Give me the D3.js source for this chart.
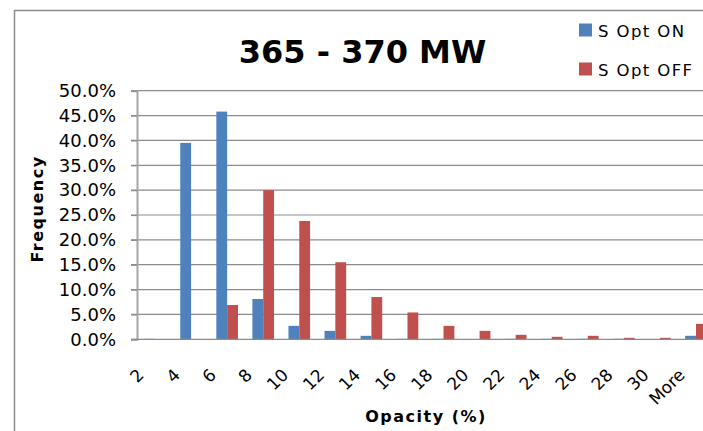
<!DOCTYPE html>
<html>
<head>
<meta charset="utf-8">
<script src="https://cdn.jsdelivr.net/npm/d3@7"></script>
<style>
  html, body { margin: 0; padding: 0; background: #fff; overflow: hidden; }
  svg { display: block; }
  text { font-family: "DejaVu Sans", "Open Sans", sans-serif; fill: #000; }
</style>
</head>
<body>
<svg id="chart" width="703" height="431"></svg>
<script>
// Opacity histogram bins (percent) and relative frequencies
const categories = ["2", "4", "6", "8", "10", "12", "14", "16", "18", "20", "22", "24", "26", "28", "30", "More"];
const seriesNames = ["S Opt ON", "S Opt OFF"];
const sOptOn  = [0.1, 39.5, 45.8, 8.1, 2.7, 1.7, 0.7, 0.1, 0.1, 0.0, 0.1, 0.1, 0.1, 0.1, 0.0, 0.7];
const sOptOff = [0.0, 0.0, 6.9, 30.0, 23.8, 15.5, 8.5, 5.4, 2.7, 1.7, 0.9, 0.5, 0.7, 0.3, 0.3, 3.1];
const yTicks = [0, 5, 10, 15, 20, 25, 30, 35, 40, 45, 50];
const colors = ["#4F81BD", "#C0504D"];

const svg = d3.select("#chart");
const plot = { left: 137, right: 714, top: 90.7, bottom: 339.3 };

// outer chart frame
svg.append("rect")
  .attr("x", 14.5).attr("y", 10.5)
  .attr("width", 720).attr("height", 440)
  .attr("fill", "none").attr("stroke", "#8c8c8c").attr("stroke-width", 1.5);

const x = d3.scaleBand().domain(categories)
  .range([plot.left, plot.right]).paddingInner(0.4).paddingOuter(0.2);
const xSub = d3.scaleBand().domain(seriesNames).range([0, x.bandwidth()]);
const y = d3.scaleLinear().domain([0, 50]).range([plot.bottom, plot.top]);

// horizontal gridlines
svg.append("g").selectAll("line").data(yTicks.slice(1)).join("line")
  .attr("x1", plot.left - 6).attr("x2", plot.right)
  .attr("y1", d => y(d)).attr("y2", d => y(d))
  .attr("stroke", "#8c8c8c").attr("stroke-width", 1.2);

// bars
const rows = categories.map((c, i) => ({ cat: c, vals: [sOptOn[i], sOptOff[i]] }));
svg.append("g").selectAll("g").data(rows).join("g")
  .attr("transform", d => `translate(${x(d.cat)},0)`)
  .selectAll("rect").data(d => d.vals.map((v, k) => ({ v, k }))).join("rect")
  .attr("x", d => xSub(seriesNames[d.k]))
  .attr("width", xSub.bandwidth())
  .attr("y", d => y(d.v))
  .attr("height", d => y(0) - y(d.v))
  .attr("fill", d => colors[d.k]);

// y axis
const yAxis = svg.append("g")
  .attr("transform", `translate(${plot.left},0)`)
  .call(d3.axisLeft(y).tickValues(yTicks).tickSize(6).tickPadding(15)
    .tickFormat(d => d3.format(".1f")(d) + "%"));
yAxis.select(".domain").attr("stroke", "#a6a6a6").attr("stroke-width", 2);
yAxis.selectAll(".tick line").attr("stroke", "#8c8c8c").attr("stroke-width", 1.2);
yAxis.selectAll(".tick text")
  .style("font-size", "18px").style("font-family", "DejaVu Sans").attr("fill", "#000");

// x baseline
svg.append("line")
  .attr("x1", plot.left - 6).attr("x2", plot.right)
  .attr("y1", y(0)).attr("y2", y(0))
  .attr("stroke", "#8c8c8c").attr("stroke-width", 1.2);

// x axis labels, rotated
svg.append("g").selectAll("text").data(categories).join("text")
  .attr("transform", d => `translate(${x(d) + x.bandwidth() / 2 - 10},376) rotate(-45)`)
  .attr("text-anchor", "end")
  .style("font-size", "17px")
  .text(d => d);

// title
svg.append("text")
  .attr("x", 362.5).attr("y", 62.5)
  .attr("text-anchor", "middle")
  .style("font-size", "32px").style("font-weight", "bold")
  .text("365 - 370 MW");

// axis titles
svg.append("text")
  .attr("x", 426).attr("y", 422)
  .attr("text-anchor", "middle")
  .style("font-size", "16px").style("font-weight", "bold").style("letter-spacing", "1.5px")
  .text("Opacity (%)");
svg.append("text")
  .attr("transform", "translate(43,209) rotate(-90)")
  .attr("text-anchor", "middle")
  .style("font-size", "16px").style("font-weight", "bold").style("letter-spacing", "1.5px")
  .text("Frequency");

// legend
const legend = svg.append("g").selectAll("g").data(seriesNames).join("g")
  .attr("transform", (d, i) => `translate(579,${23.5 + i * 39})`);
legend.append("rect").attr("width", 13).attr("height", 13).attr("fill", (d, i) => colors[i]);
legend.append("text")
  .attr("x", 19).attr("y", 13.5)
  .style("font-size", "16.5px").style("letter-spacing", "1.4px")
  .text(d => d);
</script>
</body>
</html>
